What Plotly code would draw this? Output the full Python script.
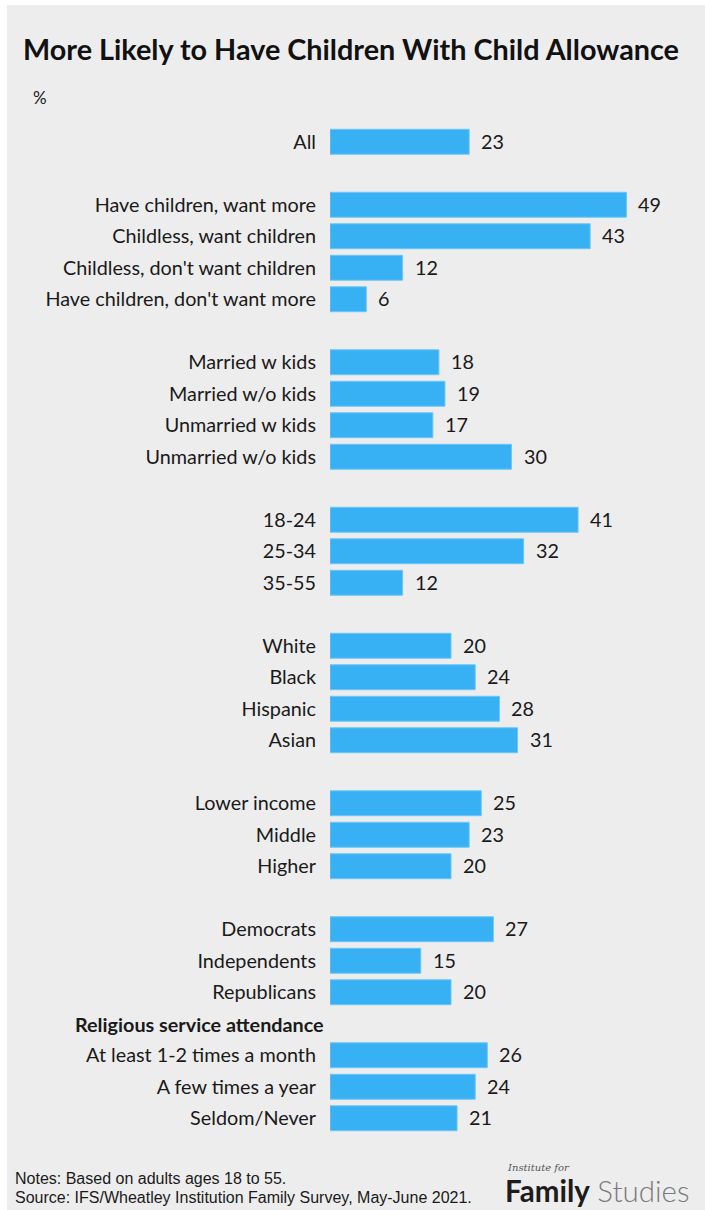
import plotly.graph_objects as go

# Rows top to bottom; blank names are spacer rows between groups
categories = [
    "All", "",
    "Have children, want more", "Childless, want children",
    "Childless, don't want children", "Have children, don't want more", " ",
    "Married w kids", "Married w/o kids", "Unmarried w kids", "Unmarried w/o kids", "  ",
    "18-24", "25-34", "35-55", "   ",
    "White", "Black", "Hispanic", "Asian", "    ",
    "Lower income", "Middle", "Higher", "     ",
    "Democrats", "Independents", "Republicans",
    "Religious service attendance",
    "At least 1-2 times a month", "A few times a year", "Seldom/Never",
]
values = [
    23, None,
    49, 43, 12, 6, None,
    18, 19, 17, 30, None,
    41, 32, 12, None,
    20, 24, 28, 31, None,
    25, 23, 20, None,
    27, 15, 20,
    None,
    26, 24, 21,
]
section_header = "Religious service attendance"

title_text = "More Likely to Have Children With Child Allowance"
unit_text = "%"
notes_text = "Notes: Based on adults ages 18 to 55."
source_text = "Source: IFS/Wheatley Institution Family Survey, May-June 2021."

W, H = 705, 1210
L, R, T, B = 330, 0, 126, 76
plot_w = W - L - R
plot_h = H - T - B

BAR = "#37b0f4"
BG = "#ededed"
TXT = "#1a1a1a"
FONT = "Lato"
LABEL_SIZE = 19.8

tick_text = ["" if c.strip() == "" or c == section_header else c for c in categories]

fig = go.Figure(
    go.Bar(
        x=values,
        y=categories,
        orientation="h",
        marker=dict(color=BAR, line=dict(color="#6cc6f7", width=1)),
        width=0.79,
        hoverinfo="skip",
    )
)

annotations = []
# value labels beside each bar
for c, v in zip(categories, values):
    if v is None:
        continue
    annotations.append(dict(
        x=v, y=c, xref="x", yref="y", text=str(v), showarrow=False,
        xanchor="left", yanchor="middle", xshift=10, yshift=1,
        font=dict(family=FONT, size=LABEL_SIZE, color=TXT),
    ))

# bold section header
annotations.append(dict(
    x=0, y=section_header, xref="paper", yref="y", text="<b>" + section_header + "</b>",
    showarrow=False, xanchor="right", yanchor="middle", xshift=-4,
    font=dict(family=FONT, size=LABEL_SIZE, color=TXT),
))


def px_x(px):
    return (px - L) / plot_w


def px_y(py):
    return (H - B - py) / plot_h


FOOT = "Liberation Sans"
annotations += [
    dict(x=px_x(31), y=px_y(97), xref="paper", yref="paper", text=unit_text,
         showarrow=False, xanchor="left", yanchor="middle",
         font=dict(family=FONT, size=17, color=TXT)),
    dict(x=px_x(13), y=px_y(1178), xref="paper", yref="paper", text=notes_text,
         showarrow=False, xanchor="left", yanchor="middle",
         font=dict(family=FOOT, size=16, color=TXT)),
    dict(x=px_x(13), y=px_y(1197), xref="paper", yref="paper", text=source_text,
         showarrow=False, xanchor="left", yanchor="middle",
         font=dict(family=FOOT, size=16, color=TXT)),
    dict(x=px_x(505), y=px_y(1167), xref="paper", yref="paper", text="<i>Institute for</i>",
         showarrow=False, xanchor="left", yanchor="middle",
         font=dict(family="DejaVu Serif", size=10, color="#555555")),
    dict(x=px_x(503), y=px_y(1210), xref="paper", yref="paper",
         text="<b>Family</b> <span style='color:#7a7a7a;font-weight:300'>Studies</span>",
         showarrow=False, xanchor="left", yanchor="bottom",
         font=dict(family=FONT, size=29.5, color="#1c1c1c")),
]

fig.update_layout(
    width=W, height=H,
    margin=dict(l=L, r=R, t=T, b=B, autoexpand=False),
    paper_bgcolor=BG, plot_bgcolor=BG,
    showlegend=False,
    bargap=0.21,
    title=dict(text="<b>" + title_text + "</b>", xref="container", yref="container",
               x=23 / W, xanchor="left", y=1 - 50 / H, yanchor="middle",
               font=dict(family=FONT, size=28.8, color="#111111")),
    xaxis=dict(range=[0, plot_w / 6.05], visible=False, fixedrange=True),
    yaxis=dict(
        type="category", categoryorder="array", categoryarray=categories,
        tickmode="array", tickvals=categories, ticktext=tick_text,
        autorange="reversed", showgrid=False, zeroline=False, showline=False,
        ticks="", ticklabelstandoff=13,
        tickfont=dict(family=FONT, size=LABEL_SIZE, color=TXT),
    ),
    annotations=annotations,
    shapes=[
        dict(type="rect", xref="paper", yref="paper", x0=px_x(0), x1=px_x(W),
             y0=px_y(5), y1=px_y(0), fillcolor="white", line=dict(width=0), layer="below"),
        dict(type="rect", xref="paper", yref="paper", x0=px_x(0), x1=px_x(7),
             y0=px_y(H), y1=px_y(0), fillcolor="white", line=dict(width=0), layer="below"),
    ],
)

fig.write_html("out.html")
